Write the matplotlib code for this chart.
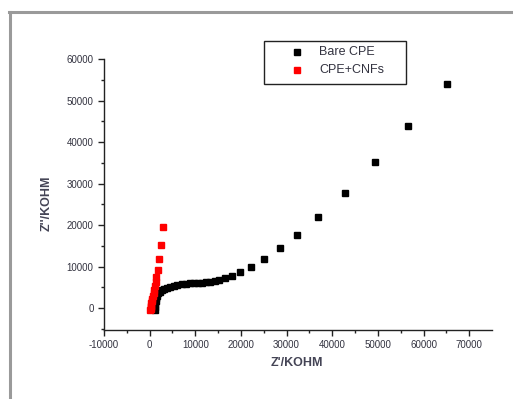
import matplotlib
matplotlib.use("Agg")
import matplotlib.pyplot as plt
from matplotlib.patches import Rectangle
from matplotlib.lines import Line2D

plt.rcParams['font.family'] = ['Liberation Sans', 'DejaVu Sans']

# Bare CPE
bare_x = [1100, 1150, 1200, 1300, 1450, 1650, 1900, 2250, 2700, 3200, 3800, 4500,
          5300, 6100, 7000, 7900, 8800, 9700, 10600, 11500, 12400, 13300, 14300,
          15300, 16400, 18000, 19900, 22300, 25000, 28500, 32300, 36900, 42800,
          49300, 56700, 65200]
bare_y = [-500, 200, 900, 1700, 2400, 3000, 3500, 3900, 4300, 4600, 4900, 5150,
          5400, 5600, 5750, 5850, 5950, 6000, 6050, 6100, 6200, 6350, 6550,
          6800, 7150, 7700, 8600, 9950, 11800, 14400, 17600, 22000, 27800,
          35100, 43800, 54000]

# CPE+CNFs
cnf_x = [150, 200, 250, 300, 400, 500, 600, 750, 850, 1000, 1150, 1300, 1500,
         1750, 2150, 2550, 2950]
cnf_y = [-500, -200, 200, 600, 1100, 1600, 2200, 2900, 3600, 4400, 5300, 6300,
         7500, 9200, 11800, 15200, 19500]

xticks = [-10000, 0, 10000, 20000, 30000, 40000, 50000, 60000, 70000]
yticks = [0, 10000, 20000, 30000, 40000, 50000, 60000]
legend_labels = ["Bare CPE", "CPE+CNFs"]
colors = ["black", "#ff0000"]

W, H = 513, 399
fig = plt.figure(figsize=(W / 100, H / 100), dpi=100)
fig.patch.set_facecolor('white')

# outer frame (only top and left visible)
fig.add_artist(Line2D([10 / W, 10 / W], [0, 1 - 12 / H], transform=fig.transFigure,
                      color='#9a9a9a', lw=2.2))
fig.add_artist(Line2D([9.2 / W, 1], [1 - 12 / H, 1 - 12 / H], transform=fig.transFigure,
                      color='#9a9a9a', lw=2.2))

left, right, top, bottom = 104, 492, 59, 330
ax = fig.add_axes([left / W, 1 - bottom / H, (right - left) / W, (bottom - top) / H])

ax.plot(bare_x, bare_y, 's', color=colors[0], ms=4.5, mec=colors[0], clip_on=False)
ax.plot(cnf_x, cnf_y, 's', color=colors[1], ms=4.5, mec=colors[1], clip_on=False)

ax.set_xlim(-10000, 75000)
ax.set_ylim(-5300, 60000)
ax.set_xticks(xticks)
ax.set_yticks(yticks)
ax.set_xticks([-5000 + 10000 * i for i in range(8)], minor=True)
ax.set_yticks([-5000 + 10000 * i for i in range(7)], minor=True)
ax.set_xticklabels([str(t) for t in xticks])
ax.set_yticklabels([str(t) for t in yticks])

for s in ['top', 'right']:
    ax.spines[s].set_visible(False)
for s in ['left', 'bottom']:
    ax.spines[s].set_linewidth(1.0)
    ax.spines[s].set_color('#222222')

ax.tick_params(which='major', direction='out', length=4.5, width=1, color='#222222',
               labelsize=7, labelcolor='#333340', pad=3)
ax.tick_params(which='minor', direction='out', length=2.5, width=1, color='#222222')

ax.set_xlabel("Z'/KOHM", fontsize=9, color='#444455', fontweight='bold')
ax.set_ylabel("Z''/KOHM", fontsize=9, color='#444455', fontweight='bold')
ax.xaxis.set_label_coords((297 - left) / (right - left), -(363 - bottom) / (bottom - top))
ax.yaxis.set_label_coords((47 - left) / (right - left), (bottom - 203) / (bottom - top))
ax.xaxis.label.set_va('center')
ax.yaxis.label.set_va('center')

# legend (manual, positioned like the original)
def ax_xy(px, py):
    return (px - left) / (right - left), (bottom - py) / (bottom - top)

lx0, ly0 = ax_xy(264, 84)
lx1, ly1 = ax_xy(406, 41)
ax.add_patch(Rectangle((lx0, ly0), lx1 - lx0, ly1 - ly0, transform=ax.transAxes,
                       fill=False, ec='#222222', lw=1.0, clip_on=False))
for i, (lab, c) in enumerate(zip(legend_labels, colors)):
    py = 52 + 18 * i
    mx, my = ax_xy(297, py)
    ax.plot([mx], [my], 's', color=c, ms=4.8, mec=c, transform=ax.transAxes, clip_on=False)
    tx, ty = ax_xy(319, py)
    ax.text(tx, ty, lab, transform=ax.transAxes, fontsize=9, color='#333340',
            va='center', ha='left')

fig.savefig("out.png", dpi=100)
